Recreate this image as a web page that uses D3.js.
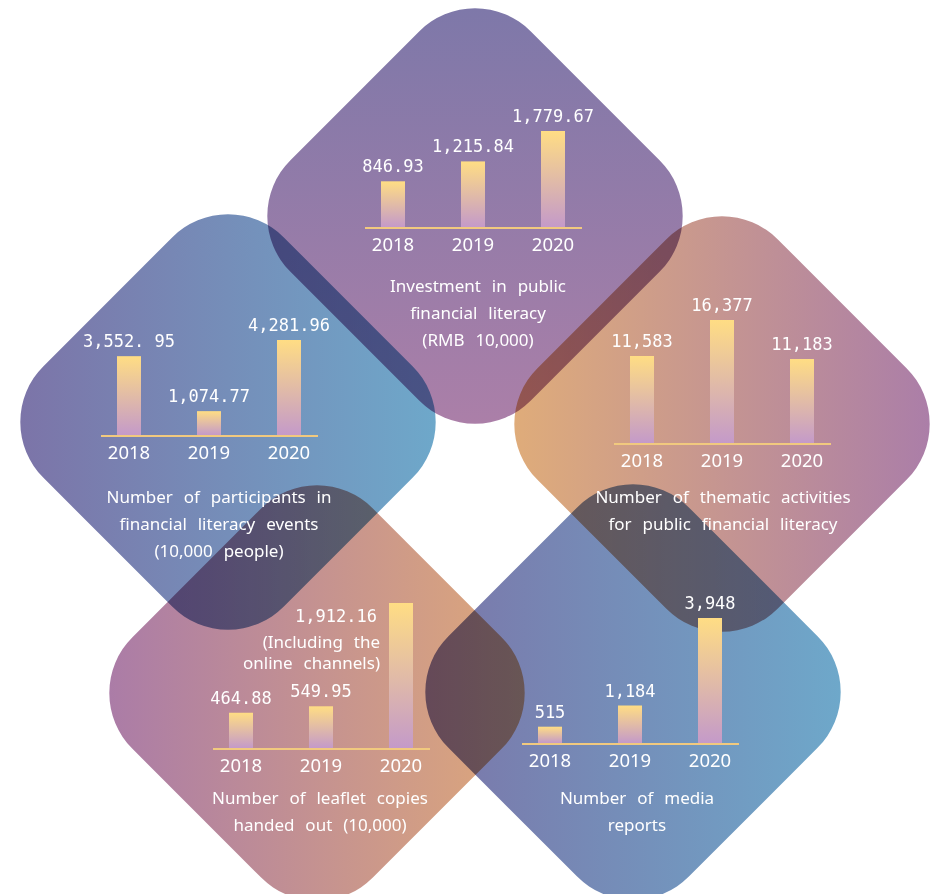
<!DOCTYPE html>
<html>
<head>
<meta charset="utf-8">
<script src="https://cdn.jsdelivr.net/npm/d3@7"></script>
<style>
  html, body { margin: 0; padding: 0; background: #ffffff; }
  svg { display: block; }
  .tile { mix-blend-mode: multiply; }
  .val { font-family: "DejaVu Sans Mono", monospace; font-size: 17px; fill: #ffffff; }
  .year { font-family: "Noto Sans", sans-serif; font-size: 18.5px; fill: #ffffff; }
  .title { font-family: "Noto Sans", sans-serif; font-size: 17px; fill: #ffffff; word-spacing: 6.5px; }
</style>
</head>
<body>
<svg id="chart" width="938" height="894"></svg>
<script>
// ---- data ----
const years = ["2018", "2019", "2020"];

const investment = [846.93, 1215.84, 1779.67];
const investmentLabels = ["846.93", "1,215.84", "1,779.67"];
const investmentTitle = ["Investment in public", "financial literacy", "(RMB 10,000)"];

const participants = [3552.95, 1074.77, 4281.96];
const participantsLabels = ["3,552. 95", "1,074.77", "4,281.96"];
const participantsTitle = ["Number of participants in", "financial literacy events", "(10,000 people)"];

const activities = [11583, 16377, 11183];
const activitiesLabels = ["11,583", "16,377", "11,183"];
const activitiesTitle = ["Number of thematic activities", "for public financial literacy"];

const leaflets = [464.88, 549.95, 1912.16];
const leafletsLabels = ["464.88", "549.95", "1,912.16"];
const leafletsNote = ["(Including the", "online channels)"];
const leafletsTitle = ["Number of leaflet copies", "handed out (10,000)"];

const media = [515, 1184, 3948];
const mediaLabels = ["515", "1,184", "3,948"];
const mediaTitle = ["Number of media", "reports"];

// ---- layout of the five rounded tiles ----
const W = 938, H = 894;
const svg = d3.select("#chart");
svg.append("rect").attr("width", W).attr("height", H).attr("fill", "#ffffff");
const defs = svg.append("defs");

const SIDE = 340, RADIUS = 79, REACH = 208;

const panels = [
  { id: "inv",  cx: 475, cy: 216, grad: ["#7e78a9", "#ab7fa8"], dir: [0, 1],
    values: investment, labels: investmentLabels, title: investmentTitle,
    axisX: 365, axisY: 227, maxH: 96, titleX: 478, titleY: 292 },
  { id: "par",  cx: 228, cy: 422, grad: ["#7c74a8", "#6ea8ca"], dir: [1, 0],
    values: participants, labels: participantsLabels, title: participantsTitle,
    axisX: 101, axisY: 435, maxH: 95, titleX: 219, titleY: 503 },
  { id: "act",  cx: 722, cy: 424, grad: ["#dfac7a", "#ab7ea8"], dir: [1, 0],
    values: activities, labels: activitiesLabels, title: activitiesTitle,
    axisX: 614, axisY: 443, maxH: 123, titleX: 723, titleY: 503 },
  { id: "lea",  cx: 317, cy: 693, grad: ["#ab7ca7", "#dea87a"], dir: [1, 0],
    values: leaflets, labels: leafletsLabels, title: leafletsTitle, note: leafletsNote,
    axisX: 213, axisY: 748, maxH: 145, titleX: 320, titleY: 804 },
  { id: "med",  cx: 633, cy: 692, grad: ["#7b76a9", "#6ea8ca"], dir: [1, 0],
    values: media, labels: mediaLabels, title: mediaTitle,
    axisX: 522, axisY: 743, maxH: 125, titleX: 637, titleY: 804 }
];

// Convert a screen-space direction into the tile's rotated (45deg) frame.
const c45 = Math.SQRT1_2;
function toLocal([x, y]) { return [x * c45 + y * c45, -x * c45 + y * c45]; }

panels.forEach(p => {
  const a = toLocal([-p.dir[0] * REACH, -p.dir[1] * REACH]);
  const b = toLocal([p.dir[0] * REACH, p.dir[1] * REACH]);
  const g = defs.append("linearGradient").attr("id", "tile-" + p.id)
    .attr("gradientUnits", "userSpaceOnUse")
    .attr("x1", a[0]).attr("y1", a[1]).attr("x2", b[0]).attr("y2", b[1]);
  g.append("stop").attr("offset", "0%").attr("stop-color", p.grad[0]);
  g.append("stop").attr("offset", "100%").attr("stop-color", p.grad[1]);
});

const barGrad = defs.append("linearGradient").attr("id", "bar-fill")
  .attr("x1", 0).attr("y1", 0).attr("x2", 0).attr("y2", 1);
barGrad.append("stop").attr("offset", "0%").attr("stop-color", "#ffdd84");
barGrad.append("stop").attr("offset", "100%").attr("stop-color", "#c49ac9");

// tiles, blended so overlaps darken
const tiles = svg.append("g");
tiles.selectAll("rect.tile").data(panels).join("rect")
  .attr("class", "tile")
  .attr("x", -SIDE / 2).attr("y", -SIDE / 2)
  .attr("width", SIDE).attr("height", SIDE)
  .attr("rx", RADIUS).attr("ry", RADIUS)
  .attr("transform", d => `translate(${d.cx},${d.cy}) rotate(45)`)
  .attr("fill", d => `url(#tile-${d.id})`);

// mini bar charts
const AXIS_W = 217, PAD = 28, STEP = 80, BAR_W = 24;
const content = svg.append("g");

panels.forEach(p => {
  const g = content.append("g");
  const x = d3.scalePoint().domain(years).range([p.axisX + PAD, p.axisX + PAD + 2 * STEP]);
  const y = d3.scaleLinear().domain([0, d3.max(p.values)]).range([p.axisY, p.axisY - p.maxH]);

  g.selectAll("rect.bar").data(p.values).join("rect")
    .attr("class", "bar")
    .attr("x", (d, i) => x(years[i]) - BAR_W / 2)
    .attr("width", BAR_W)
    .attr("y", d => y(d))
    .attr("height", d => y(0) - y(d))
    .attr("fill", "url(#bar-fill)");

  g.append("line")
    .attr("x1", p.axisX).attr("x2", p.axisX + AXIS_W)
    .attr("y1", p.axisY + 1).attr("y2", p.axisY + 1)
    .attr("stroke", "#f1c97e").attr("stroke-width", 2);

  g.selectAll("text.year").data(years).join("text")
    .attr("class", "year")
    .attr("x", d => x(d)).attr("y", p.axisY + 24)
    .attr("text-anchor", "middle").text(d => d);

  g.selectAll("text.val").data(p.values).join("text")
    .attr("class", "val")
    .attr("x", (d, i) => (p.note && i === 2) ? x(years[i]) - BAR_W / 2 - 12 : x(years[i]))
    .attr("y", (d, i) => (p.note && i === 2) ? y(d) + 19 : y(d) - 9)
    .attr("text-anchor", (d, i) => (p.note && i === 2) ? "end" : "middle")
    .text((d, i) => p.labels[i]);

  if (p.note) {
    const top = y(p.values[2]);
    const nx = x(years[2]) - BAR_W / 2 - 9;
    g.selectAll("text.note").data(p.note).join("text")
      .attr("class", "title")
      .attr("x", nx).attr("y", (d, i) => top + 45 + i * 21)
      .attr("text-anchor", "end").text(d => d);
  }

  g.selectAll("text.ttl").data(p.title).join("text")
    .attr("class", "title")
    .attr("x", p.titleX).attr("y", (d, i) => p.titleY + i * 27)
    .attr("text-anchor", "middle").text(d => d);
});
</script>
</body>
</html>
